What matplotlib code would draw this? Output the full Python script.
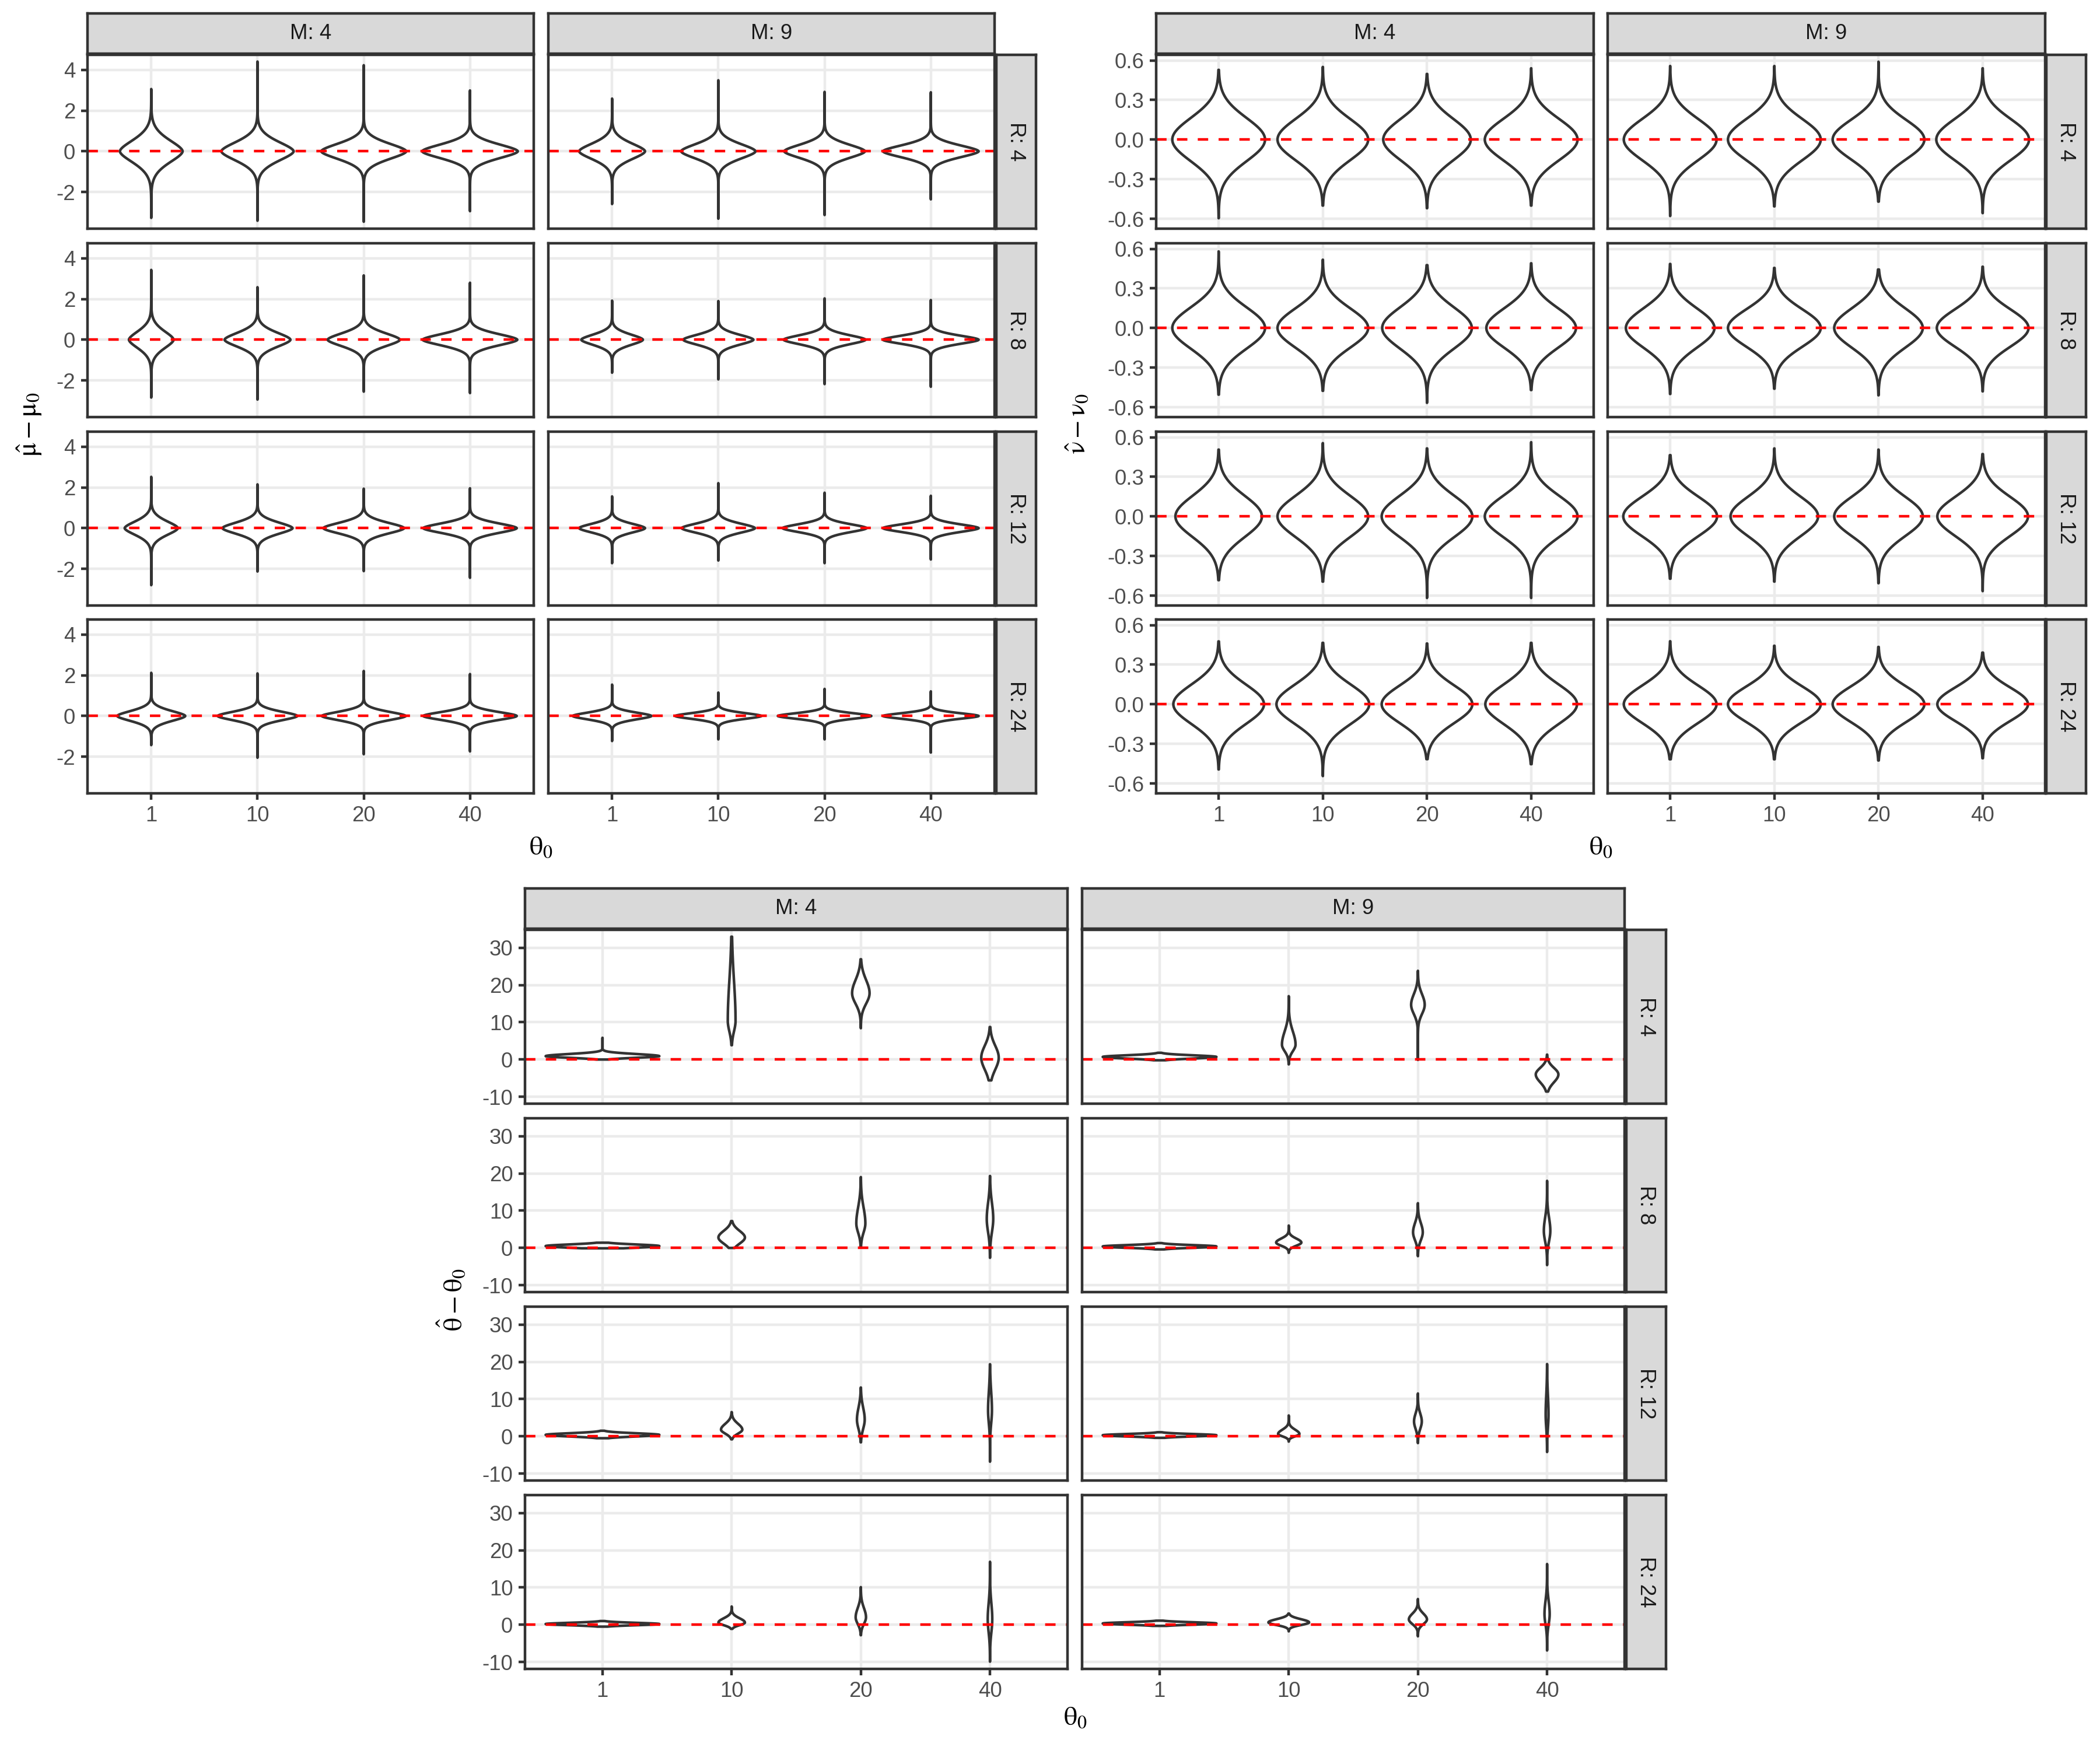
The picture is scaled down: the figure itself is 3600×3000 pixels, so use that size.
import numpy as np
import matplotlib
matplotlib.use("Agg")
import matplotlib.pyplot as plt

plt.rcParams['font.family'] = ['Liberation Sans', 'DejaVu Sans']
plt.rcParams['mathtext.fontset'] = 'stix'

theta0 = ['1', '10', '20', '40']
M_levels = ['4', '9']
R_levels = ['4', '8', '12', '24']

# rows: M4 R4, M4 R8, M4 R12, M4 R24, M9 R4, M9 R8, M9 R12, M9 R24
# columns: theta0 = 1, 10, 20, 40

# mu_hat - mu0 : extent, width of violin, spread of the body
mu_lo = [[-3.27, -3.41, -3.46, -2.94],
         [-2.84, -2.94, -2.55, -2.62],
         [-2.80, -2.13, -2.11, -2.44],
         [-1.43, -2.05, -1.88, -1.74],
         [-2.59, -3.31, -3.13, -2.36],
         [-1.62, -1.95, -2.18, -2.31],
         [-1.72, -1.59, -1.72, -1.54],
         [-1.23, -1.15, -1.15, -1.79]]
mu_hi = [[3.06, 4.41, 4.23, 2.99],
         [3.43, 2.58, 3.16, 2.80],
         [2.52, 2.15, 1.94, 1.96],
         [2.12, 2.09, 2.21, 2.06],
         [2.59, 3.49, 2.92, 2.90],
         [1.92, 1.90, 2.03, 1.95],
         [1.56, 2.21, 1.74, 1.59],
         [1.54, 1.15, 1.33, 1.21]]
mu_mode = [[0.0, 0.0, 0.0, 0.0]] * 8
mu_width = [[0.59, 0.68, 0.80, 0.90],
            [0.42, 0.62, 0.68, 0.89],
            [0.50, 0.66, 0.76, 0.88],
            [0.64, 0.75, 0.79, 0.88],
            [0.62, 0.70, 0.76, 0.90],
            [0.58, 0.66, 0.77, 0.90],
            [0.62, 0.69, 0.79, 0.90],
            [0.74, 0.81, 0.88, 0.90]]
mu_spread = [[0.80, 0.68, 0.57, 0.52],
             [0.62, 0.52, 0.48, 0.42],
             [0.50, 0.42, 0.40, 0.36],
             [0.37, 0.32, 0.31, 0.30],
             [0.58, 0.54, 0.50, 0.45],
             [0.39, 0.37, 0.34, 0.31],
             [0.33, 0.34, 0.30, 0.29],
             [0.26, 0.22, 0.21, 0.21]]

# nu_hat - nu0
nu_lo = [[-0.596, -0.50, -0.52, -0.50],
         [-0.505, -0.476, -0.567, -0.47],
         [-0.483, -0.494, -0.618, -0.618],
         [-0.494, -0.544, -0.416, -0.454],
         [-0.579, -0.506, -0.47, -0.557],
         [-0.50, -0.46, -0.51, -0.48],
         [-0.472, -0.494, -0.506, -0.566],
         [-0.417, -0.417, -0.426, -0.409]]
nu_hi = [[0.528, 0.55, 0.497, 0.54],
         [0.58, 0.517, 0.476, 0.49],
         [0.506, 0.555, 0.515, 0.562],
         [0.476, 0.465, 0.46, 0.465],
         [0.557, 0.557, 0.59, 0.54],
         [0.485, 0.455, 0.443, 0.464],
         [0.464, 0.515, 0.506, 0.472],
         [0.477, 0.443, 0.434, 0.391]]
nu_mode = [[0.0, 0.0, 0.0, 0.0]] * 8
nu_width = [[0.89, 0.87, 0.84, 0.89],
            [0.89, 0.87, 0.86, 0.86],
            [0.83, 0.87, 0.87, 0.89],
            [0.87, 0.89, 0.87, 0.88],
            [0.89, 0.89, 0.88, 0.89],
            [0.85, 0.89, 0.85, 0.88],
            [0.90, 0.84, 0.85, 0.87],
            [0.89, 0.89, 0.88, 0.87]]
nu_spread = [[0.23, 0.22, 0.22, 0.22],
             [0.22, 0.21, 0.22, 0.21],
             [0.22, 0.22, 0.22, 0.22],
             [0.21, 0.21, 0.20, 0.21],
             [0.22, 0.22, 0.21, 0.22],
             [0.21, 0.20, 0.21, 0.20],
             [0.21, 0.21, 0.21, 0.21],
             [0.20, 0.19, 0.19, 0.18]]

# theta_hat - theta0
th_lo = [[0.0, 3.84, 8.4, -5.6],
         [-0.1, 0.0, 0.1, -2.65],
         [-0.5, -0.8, -1.6, -6.8],
         [-0.5, -1.1, -2.8, -9.9],
         [-0.2, -1.3, -0.1, -8.6],
         [-0.4, -1.3, -2.2, -4.6],
         [-0.4, -1.4, -1.8, -4.2],
         [-0.3, -1.76, -3.1, -6.9]]
th_hi = [[5.8, 32.96, 26.9, 8.72],
         [1.4, 7.2, 19.0, 19.3],
         [1.5, 6.5, 13.1, 19.35],
         [1.0, 4.9, 10.1, 16.9],
         [1.8, 17.0, 23.8, 1.3],
         [1.3, 6.0, 12.0, 18.0],
         [1.1, 5.6, 11.5, 19.4],
         [1.1, 3.0, 6.9, 16.3]]
th_mode = [[0.9, 10.4, 17.8, 0.5],
           [0.5, 2.8, 6.6, 7.8],
           [0.4, 1.8, 4.5, 7.0],
           [0.2, 0.6, 2.0, 1.5],
           [0.7, 4.0, 14.7, -4.0],
           [0.4, 1.45, 4.2, 4.6],
           [0.3, 0.65, 4.0, 5.9],
           [0.35, 0.64, 1.44, 2.9]]
th_width = [[0.88, 0.06, 0.135, 0.135],
            [0.88, 0.205, 0.07, 0.05],
            [0.88, 0.165, 0.06, 0.03],
            [0.88, 0.205, 0.08, 0.035],
            [0.88, 0.105, 0.105, 0.175],
            [0.88, 0.195, 0.075, 0.05],
            [0.88, 0.165, 0.06, 0.022],
            [0.88, 0.315, 0.14, 0.04]]
th_spread_lo = [[0.6, 4.0, 4.0, 4.5],
                [0.6, 2.3, 3.5, 5.0],
                [0.6, 1.5, 3.5, 5.0],
                [0.45, 1.0, 2.5, 5.0],
                [0.6, 2.5, 3.5, 3.0],
                [0.5, 1.2, 3.0, 4.0],
                [0.45, 0.9, 2.8, 5.0],
                [0.45, 1.0, 1.8, 4.0]]
th_spread_hi = [[0.8, 15.0, 5.0, 4.5],
                [0.6, 2.5, 6.0, 6.0],
                [0.6, 2.2, 4.5, 7.0],
                [0.45, 1.6, 3.5, 6.0],
                [0.6, 5.0, 4.0, 2.5],
                [0.5, 1.5, 3.5, 5.0],
                [0.45, 1.6, 3.0, 7.0],
                [0.45, 1.2, 2.2, 5.0]]

W, H = 3600, 3000
fig = plt.figure(figsize=(12, 10), dpi=300)

LW = 1.07
DARK = '#333333'
GRID = '#EBEBEB'
STRIP = '#D9D9D9'


def box(x, y, w, h):
    return [x / W, 1 - (y + h) / H, w / W, h / H]


def violin(ax, xpos, lo, hi, mode, width, s_lo, s_hi, p):
    y = np.linspace(lo, hi, 400)
    u = np.where(y < mode, (mode - y) / s_lo, (y - mode) / s_hi)
    hw = width / 2 * np.exp(-np.abs(u) ** p)
    xs = np.concatenate([xpos + hw, (xpos - hw)[::-1]])
    ys = np.concatenate([y, y[::-1]])
    ax.fill(xs, ys, facecolor='white', edgecolor=DARK, lw=LW, zorder=3,
            joinstyle='round')


def strip(rect, label, rot=0):
    sax = fig.add_axes(rect)
    sax.set_facecolor(STRIP)
    sax.set_xticks([])
    sax.set_yticks([])
    for sp in sax.spines.values():
        sp.set_color(DARK)
        sp.set_linewidth(LW)
    sax.text(0.5, 0.5, label, ha='center', va='center', rotation=rot,
             fontsize=8.8, color='#1A1A1A', transform=sax.transAxes)


def block(col_x, col_w, row_y, row_h, rstrip_x, ylim, yticks, ytlabels,
          lo, hi, mode, width, s_lo, s_hi, p, ylab, ylab_x, xlab_xy):
    for m in range(2):
        strip(box(col_x[m], row_y[0] - 71, col_w, 69), 'M: ' + M_levels[m])
        for r in range(4):
            k = m * 4 + r
            ax = fig.add_axes(box(col_x[m], row_y[r], col_w, row_h))
            ax.set_xlim(0.4, 4.6)
            ax.set_ylim(*ylim)
            ax.set_axisbelow(True)
            ax.grid(True, color=GRID, lw=LW, zorder=0)
            for sp in ax.spines.values():
                sp.set_color(DARK)
                sp.set_linewidth(LW)
                sp.set_zorder(6)
            for j in range(4):
                violin(ax, j + 1, lo[k][j], hi[k][j], mode[k][j], width[k][j],
                       s_lo[k][j], s_hi[k][j], p)
            ax.axhline(0, color='red', lw=LW, ls=(0, (4, 4)), zorder=4)
            ax.set_xticks([1, 2, 3, 4])
            ax.set_yticks(yticks)
            ax.tick_params(length=2.75, width=LW, color=DARK, pad=2.2,
                           labelsize=8.8, labelcolor='#4D4D4D')
            if m == 0:
                ax.set_yticklabels(ytlabels)
            else:
                ax.tick_params(axis='y', length=0, labelleft=False)
            if r == 3:
                ax.set_xticklabels(theta0)
            else:
                ax.tick_params(axis='x', length=0, labelbottom=False)
            if m == 1:
                strip(box(rstrip_x, row_y[r], 68, row_h), 'R: ' + R_levels[r], rot=-90)
    ymid = (row_y[0] + row_y[3] + row_h) / 2
    fig.text(ylab_x / W, 1 - ymid / H, ylab, rotation=90, ha='center', va='center',
             fontsize=11)
    fig.text(xlab_xy[0] / W, 1 - xlab_xy[1] / H, r'$\mathrm{\theta}_0$', ha='center',
             va='center', fontsize=11)


rows_top = [94, 417, 740, 1062]
rows_bot = [1594, 1917, 2240, 2563]

block([150, 940], 765, rows_top, 298, 1708, (-3.80, 4.74), [-2, 0, 2, 4],
      ['-2', '0', '2', '4'], mu_lo, mu_hi, mu_mode, mu_width, mu_spread, mu_spread,
      1.7, r'$\hat{\mathrm{\mu}} - \mathrm{\mu}_0$', 51, (927, 1453))

block([1982, 2756], 750, rows_top, 298, 3508, (-0.675, 0.642),
      [-0.6, -0.3, 0.0, 0.3, 0.6], ['-0.6', '-0.3', '0.0', '0.3', '0.6'],
      nu_lo, nu_hi, nu_mode, nu_width, nu_spread, nu_spread,
      2.0, r'$\hat{\mathrm{\nu}} - \mathrm{\nu}_0$', 1848, (2744, 1453))

block([900, 1855], 930, rows_bot, 298, 2788, (-11.85, 34.8), [-10, 0, 10, 20, 30],
      ['-10', '0', '10', '20', '30'], th_lo, th_hi, th_mode, th_width,
      th_spread_lo, th_spread_hi, 2.0, r'$\hat{\mathrm{\theta}} - \mathrm{\theta}_0$',
      775, (1843, 2945))

fig.savefig('out.png', dpi=300, facecolor='white')
